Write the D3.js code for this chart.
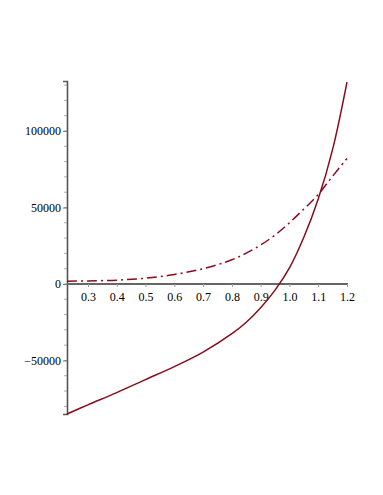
<!DOCTYPE html>
<html>
<head>
<meta charset="utf-8">
<script src="https://cdn.jsdelivr.net/npm/d3@7/dist/d3.min.js"></script>
<style>
  body { margin: 0; background: #fff; }
  .tick text { font-family: "Liberation Serif", "DejaVu Serif", serif; font-size: 12px; fill: #000; }
</style>
</head>
<body>
<div id="chart"></div>
<script>
let xs = [0.227, 0.3, 0.4, 0.5, 0.6, 0.7, 0.8, 0.85, 0.9, 0.95, 1.0, 1.05, 1.1, 1.15, 1.2];
let solidVals = [-85000, -79000, -71000, -62500, -54000, -44500, -32500, -25000, -15500, -4000, 10500, 30500, 55500, 88000, 132000];
let dashVals = [1800, 2000, 2500, 3800, 6200, 10000, 15800, 20200, 25500, 32000, 40000, 49000, 58500, 70500, 82000];

let xTicks = [0.3, 0.4, 0.5, 0.6, 0.7, 0.8, 0.9, 1.0, 1.1, 1.2];
let yTicks = [-50000, 0, 50000, 100000];
let yMinor = d3.range(-80000, 130001, 10000);

let width = 383, height = 495;
let lineColor = "#8a0c1c";

let x = d3.scaleLinear().domain([0.227, 1.2]).range([67, 347]);
let y = d3.scaleLinear().domain([-85000, 132700]).range([414, 81]);

let svg = d3.select("#chart").append("svg")
	.attr("width", width).attr("height", height);

// y minor ticks
svg.append("g").selectAll("line").data(yMinor).enter().append("line")
	.attr("x1", x(0.227) - 3).attr("x2", x(0.227))
	.attr("y1", d => y(d)).attr("y2", d => y(d))
	.attr("stroke", "#999").attr("stroke-width", 0.8);

let yAxis = svg.append("g")
	.attr("transform", "translate(" + x(0.227) + ",0)")
	.call(d3.axisLeft(y).tickValues(yTicks).tickSize(4).tickPadding(2)
		.tickFormat(d => d < 0 ? "\u2212" + Math.abs(d) : String(d)));
yAxis.select(".domain").attr("stroke", "#555").attr("stroke-width", 1.6);
yAxis.selectAll(".tick line").attr("stroke", "#777");

let xAxis = svg.append("g")
	.attr("transform", "translate(0," + y(0) + ")")
	.call(d3.axisBottom(x).tickValues(xTicks).tickSize(3).tickPadding(6)
		.tickFormat(d3.format(".1f")));
xAxis.select(".domain").attr("d", "M" + x(0.227) + ",0H" + (x(1.2) + 1))
	.attr("stroke", "#666").attr("stroke-width", 1.8);
xAxis.selectAll(".tick line").attr("stroke", "#999");

let line = d3.line().x(d => x(d[0])).y(d => y(d[1])).curve(d3.curveCatmullRom);

svg.append("path").datum(d3.zip(xs, dashVals))
	.attr("d", line).attr("fill", "none")
	.attr("stroke", lineColor).attr("stroke-width", 1.5)
	.attr("stroke-dasharray", "10,4,2,4");

svg.append("path").datum(d3.zip(xs, solidVals))
	.attr("d", line).attr("fill", "none")
	.attr("stroke", lineColor).attr("stroke-width", 1.5);
</script>
</body>
</html>
